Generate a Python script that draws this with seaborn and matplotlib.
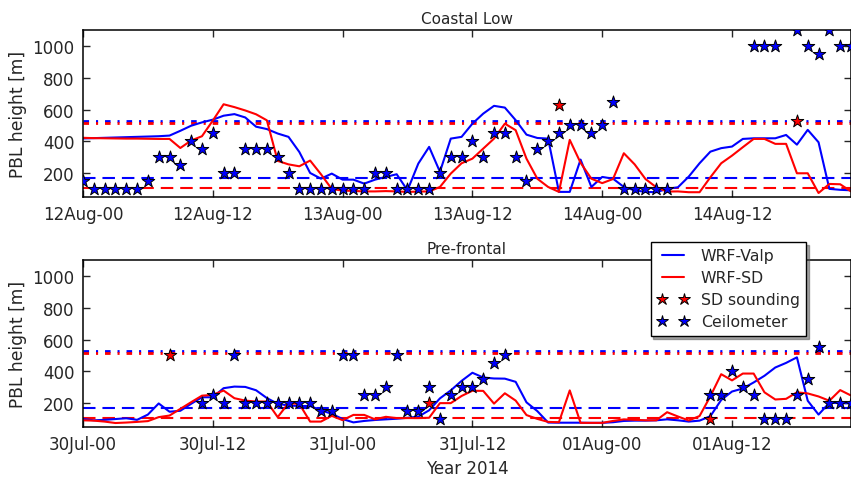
import pandas as pd
import seaborn as sns
import matplotlib.pyplot as plt
import matplotlib.dates as mdates
from matplotlib.lines import Line2D

sns.set_style('ticks')
plt.rcParams['font.family'] = ['DejaVu Sans']
plt.rcParams['lines.scale_dashes'] = False

# Hourly PBL height [m] (72 h per case)
cl_start = '2014-08-12 00:00'
cl_valp = [418, 420, 422, 424, 426, 428, 430, 432, 436, 466, 498, 519,
           536, 561, 571, 550, 492, 477, 449, 428, 333, 201, 165, 197,
           159, 159, 134, 159, 176, 193, 92, 260, 365, 208, 417, 428,
           511, 574, 623, 612, 533, 442, 421, 417, 82, 82, 285, 113,
           176, 165, 113, 92, 82, 80, 101, 111, 178, 262, 335, 357,
           367, 415, 419, 419, 419, 440, 379, 472, 394, 101, 95, 92]
cl_sd = [422, 420, 419, 418, 417, 417, 416, 415, 415, 358, 405, 432,
         530, 633, 615, 594, 570, 532, 277, 255, 243, 279, 193, 100,
         90, 88, 85, 85, 87, 85, 82, 84, 85, 113, 197, 262,
         291, 354, 417, 511, 470, 291, 165, 113, 82, 409, 265, 165,
         137, 163, 325, 255, 163, 111, 84, 85, 80, 80, 174, 262,
         310, 363, 415, 415, 384, 384, 199, 199, 75, 132, 130, 85]
cl_ceil_hours = list(range(0, 55)) + [62, 63, 64, 66, 67, 68, 69, 70, 71]
cl_ceil = [150, 100, 100, 100, 100, 100, 150, 300, 300, 250, 400, 350,
           450, 200, 200, 350, 350, 350, 300, 200, 100, 100, 100, 100,
           100, 100, 100, 200, 200, 100, 100, 100, 100, 200, 300, 300,
           400, 300, 450, 450, 300, 150, 350, 400, 450, 500, 500, 450,
           500, 650, 100, 100, 100, 100, 100,
           1000, 1000, 1000, 1100, 1000, 950, 1100, 1000, 1000]
cl_sound_hours = [44, 66]
cl_sound = [630, 525]

pf_start = '2014-07-30 00:00'
pf_valp = [100, 92, 95, 100, 105, 95, 128, 198, 146, 152, 196, 237,
           237, 294, 304, 302, 281, 232, 196, 185, 182, 182, 155, 133,
           100, 79, 88, 94, 98, 102, 108, 115, 155, 230, 280, 340,
           391, 361, 355, 354, 334, 205, 150, 78, 77, 77, 77, 76,
           76, 80, 88, 90, 90, 92, 98, 92, 84, 90, 118, 220,
           273, 292, 330, 372, 424, 453, 488, 215, 128, 202, 200, 200]
pf_sd = [92, 90, 84, 75, 78, 82, 87, 112, 122, 164, 206, 247,
         252, 279, 231, 216, 210, 210, 112, 200, 195, 84, 84, 120,
         93, 126, 126, 98, 114, 106, 106, 106, 108, 200, 200, 245,
         278, 277, 197, 262, 216, 125, 101, 82, 80, 280, 76, 76,
         76, 88, 98, 95, 92, 92, 143, 116, 91, 119, 243, 382,
         343, 386, 386, 268, 223, 227, 268, 261, 242, 215, 282, 248]
pf_ceil_hours = list(range(11, 40)) + list(range(58, 72))
pf_ceil = [200, 250, 200, 500, 200, 200, 200, 200, 200, 200, 200, 150,
           150, 500, 500, 250, 250, 300, 500, 150, 150, 300, 100, 250,
           300, 300, 350, 450, 500,
           250, 250, 400, 300, 250, 100, 100, 100, 250, 350, 550, 200,
           200, 200]
pf_sound_hours = [8, 32, 58]
pf_sound = [500, 200, 100]

# reference levels
valp_high, sd_high = 525, 515
valp_low, sd_low = 167, 108


def draw_case(ax, start, valp, sd, ceil_h, ceil, snd_h, snd, title):
    t = pd.date_range(start, periods=len(valp), freq='h')
    df = pd.DataFrame({'time': list(t) * 2,
                       'pbl': valp + sd,
                       'model': ['WRF-Valp'] * len(valp) + ['WRF-SD'] * len(sd)})
    sns.lineplot(data=df, x='time', y='pbl', hue='model',
                 palette={'WRF-Valp': 'b', 'WRF-SD': 'r'},
                 lw=1.5, ax=ax, legend=False, zorder=2)
    ax.axhline(valp_high, color='b', lw=2, dashes=(4, 5, 1.5, 5), zorder=1)
    ax.axhline(sd_high, color='r', lw=2, dashes=(4, 5, 1.5, 5), zorder=1)
    ax.axhline(valp_low, color='b', lw=1.5, dashes=(9, 5), zorder=1)
    ax.axhline(sd_low, color='r', lw=1.5, dashes=(9, 5), zorder=1)
    sns.scatterplot(x=t[ceil_h], y=ceil, marker='*', s=90, color='b',
                    edgecolor='k', linewidth=0.7, ax=ax, zorder=3)
    sns.scatterplot(x=t[snd_h], y=snd, marker='*', s=90, color='r',
                    edgecolor='k', linewidth=0.7, ax=ax, zorder=3)
    ax.set_xlim(t[0], t[-1])
    ax.set_ylim(50, 1100)
    ax.set_yticks([200, 400, 600, 800, 1000])
    ax.xaxis.set_major_locator(mdates.HourLocator(byhour=[0, 12]))
    ax.xaxis.set_major_formatter(mdates.DateFormatter('%d%b-%H'))
    ax.tick_params(direction='in', top=True, right=True, length=5,
                   width=1, labelsize=12, pad=6)
    for s in ax.spines.values():
        s.set_linewidth(1.1)
        s.set_color('k')
    ax.set_title(title, fontsize=11, pad=5)
    ax.set_ylabel('PBL height [m]', fontsize=12.3)
    ax.set_xlabel('')


fig = plt.figure(figsize=(8.51, 4.81), dpi=100)
ax1 = fig.add_axes([0.0975, 0.5884, 0.9025, 0.3472])
ax2 = fig.add_axes([0.0975, 0.1102, 0.9025, 0.3472])

draw_case(ax1, cl_start, cl_valp, cl_sd, cl_ceil_hours, cl_ceil,
          cl_sound_hours, cl_sound, 'Coastal Low')
draw_case(ax2, pf_start, pf_valp, pf_sd, pf_ceil_hours, pf_ceil,
          pf_sound_hours, pf_sound, 'Pre-frontal')
ax2.set_xlabel('Year 2014', fontsize=12, labelpad=4)

handles = [
    Line2D([], [], color='b', lw=1.5),
    Line2D([], [], color='r', lw=1.5),
    Line2D([], [], ls='none', marker='*', ms=9, mfc='r', mec='k', mew=0.7),
    Line2D([], [], ls='none', marker='*', ms=9, mfc='b', mec='k', mew=0.7),
]
labels = ['WRF-Valp', 'WRF-SD', 'SD sounding', 'Ceilometer']
leg = fig.legend(handles, labels, loc='upper right', numpoints=2,
                 bbox_to_anchor=(806 / 851, 1 - 243 / 481), borderaxespad=0,
                 fontsize=11.3, frameon=True, fancybox=False, shadow=True,
                 handlelength=2.0, borderpad=0.4, labelspacing=0.45)
leg.get_frame().set_edgecolor('k')
leg.get_frame().set_linewidth(1.0)

plt.savefig('out.png', dpi=100)
